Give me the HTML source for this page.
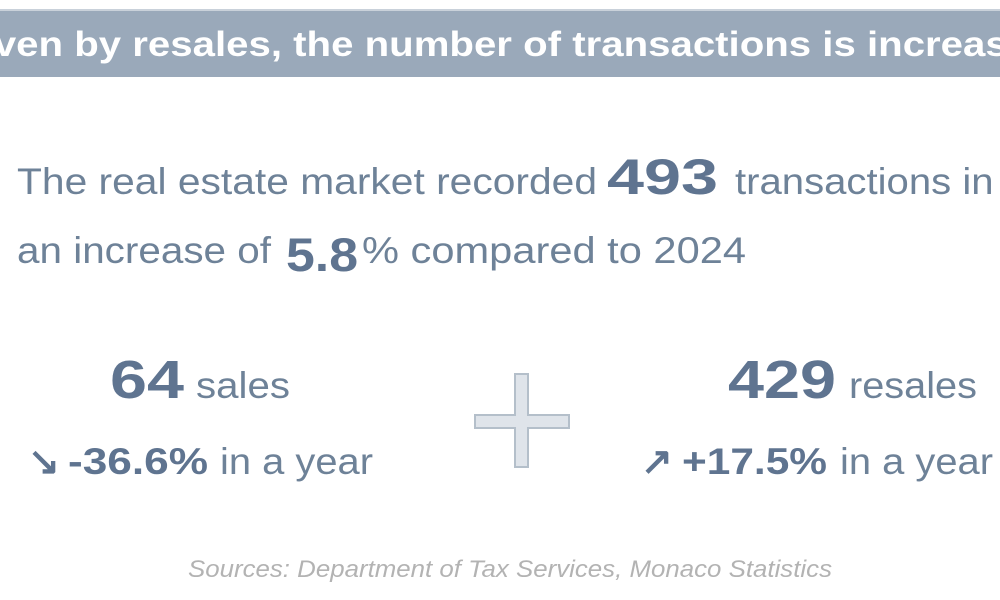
<!DOCTYPE html>
<html><head><meta charset="utf-8"><style>
html,body{margin:0;padding:0;background:#fff;width:1000px;height:600px;overflow:hidden}
svg{display:block}
text{font-family:"Liberation Sans",Arial,sans-serif}
</style></head><body>
<svg width="1000" height="600" viewBox="0 0 1000 600">
<rect x="0" y="0" width="1000" height="600" fill="#fff"/>
<rect x="0" y="9" width="1000" height="68" fill="#9aa9ba"/>
<rect x="0" y="9" width="1000" height="2" fill="#c9d1da"/>
<text x="-62" y="56" font-size="35" font-weight="bold" fill="#fff" textLength="1130" lengthAdjust="spacingAndGlyphs">Driven by resales, the number of transactions is increasing</text>

<g fill="#6e8298">
<text x="17" y="194" font-size="37" textLength="580" lengthAdjust="spacingAndGlyphs">The real estate market recorded</text>
<text x="607" y="194" font-size="50" font-weight="bold" fill="#5f7490" textLength="111" lengthAdjust="spacingAndGlyphs">493</text>
<text x="735" y="194" font-size="37" textLength="370" lengthAdjust="spacingAndGlyphs">transactions in 2025,</text>
<text x="17" y="263" font-size="37" textLength="254" lengthAdjust="spacingAndGlyphs">an increase of</text>
<text x="286" y="271" font-size="47" font-weight="bold" fill="#5f7490" textLength="72" lengthAdjust="spacingAndGlyphs">5.8</text>
<text x="362" y="263" font-size="37" textLength="384" lengthAdjust="spacingAndGlyphs">% compared to 2024</text>

<text x="110" y="398" font-size="54" font-weight="bold" fill="#5f7490" textLength="74" lengthAdjust="spacingAndGlyphs">64</text>
<text x="196" y="398" font-size="37" textLength="94" lengthAdjust="spacingAndGlyphs">sales</text>
<text x="28" y="474" font-size="38" font-weight="bold" fill="#5f7490">↘</text>
<text x="68" y="474" font-size="37" font-weight="bold" fill="#5f7490" textLength="140" lengthAdjust="spacingAndGlyphs">-36.6%</text>
<text x="220" y="474" font-size="37" textLength="153" lengthAdjust="spacingAndGlyphs">in a year</text>

<text x="728" y="398" font-size="54" font-weight="bold" fill="#5f7490" textLength="108" lengthAdjust="spacingAndGlyphs">429</text>
<text x="849" y="398" font-size="37" textLength="128" lengthAdjust="spacingAndGlyphs">resales</text>
<text x="641" y="474" font-size="38" font-weight="bold" fill="#5f7490">↗</text>
<text x="682" y="474" font-size="37" font-weight="bold" fill="#5f7490" textLength="145" lengthAdjust="spacingAndGlyphs">+17.5%</text>
<text x="840" y="474" font-size="37" textLength="153" lengthAdjust="spacingAndGlyphs">in a year</text>
</g>

<path d="M515,374 H528 V415 H569 V428 H528 V467 H515 V428 H475 V415 H515 Z" fill="#dfe4ea" stroke="#b4bfca" stroke-width="2"/>

<text x="188" y="577" font-size="24" font-style="italic" fill="#b3b3b3" textLength="644" lengthAdjust="spacingAndGlyphs">Sources: Department of Tax Services, Monaco Statistics</text>
</svg>
</body></html>
